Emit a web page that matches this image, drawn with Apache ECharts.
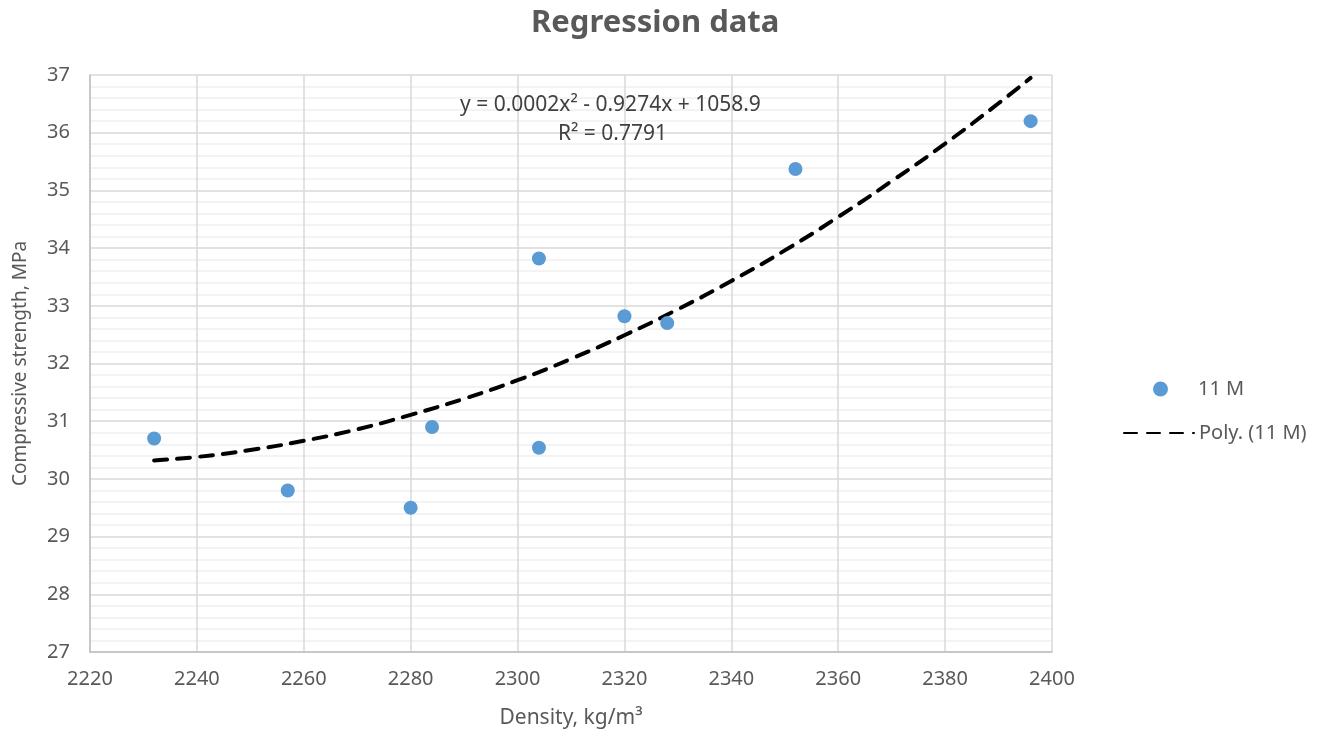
<!DOCTYPE html>
<html><head><meta charset="utf-8">
<script src="https://cdn.jsdelivr.net/npm/echarts@6/dist/echarts.min.js"></script>
<style>html,body{margin:0;padding:0;background:#fff}#c{width:1329px;height:736px}</style>
</head><body><div id="c"></div>
<script>
// Observed data (Density kg/m³, Compressive strength MPa)
const density = [2232, 2257, 2280, 2284, 2304, 2304, 2320, 2328, 2352, 2396];
const strength = [30.7, 29.8, 29.5, 30.9, 30.54, 33.82, 32.82, 32.7, 35.37, 36.2];
// Trendline values
const trendX = [2232, 2240, 2250, 2260, 2270, 2280, 2290, 2300, 2310, 2320, 2330, 2340, 2350, 2360, 2370, 2380, 2390, 2396];
const trendY = [30.32, 30.38, 30.50, 30.66, 30.86, 31.11, 31.39, 31.71, 32.08, 32.49, 32.94, 33.43, 33.96, 34.54, 35.16, 35.81, 36.51, 36.95];
const xTicks = {min: 2220, max: 2400, interval: 20};
const yTicks = {min: 27, max: 37, interval: 1};
const eqText = 'y = 0.0002x² - 0.9274x + 1058.9';
const r2Text = 'R² = 0.7791';

const font = 'Noto Sans';
const chart = echarts.init(document.getElementById('c'));
chart.setOption({
  backgroundColor: '#fff',
  animation: false,
  title: {text: 'Regression data', left: 526, top: 3,
    textStyle: {fontFamily: font, fontSize: 31, fontWeight: 'bold', color: '#595959'}},
  grid: {left: 90, right: 277, top: 75, bottom: 84},
  legend: [
    {data: [{name: '11 M', icon: 'circle'}], left: 1148, top: 374, orient: 'vertical',
     itemWidth: 15, itemHeight: 15,
     textStyle: {fontFamily: font, fontSize: 20, color: '#595959', padding: [0, 0, 0, 25]}},
    {data: [{name: 'Poly. (11 M)', itemStyle: {opacity: 0}}], left: 1118, top: 418, orient: 'vertical',
     itemWidth: 70, itemHeight: 20,
     textStyle: {fontFamily: font, fontSize: 20, color: '#595959'}}
  ],
  xAxis: {type: 'value', min: xTicks.min, max: xTicks.max, interval: xTicks.interval,
    name: 'Density, kg/m³', nameLocation: 'middle', nameGap: 56,
    nameTextStyle: {fontFamily: font, fontSize: 21, color: '#595959'},
    axisLine: {show: true, lineStyle: {color: '#bfbfbf', width: 1.5}},
    axisTick: {show: false},
    axisLabel: {fontFamily: font, fontSize: 20, color: '#595959', margin: 17,
      formatter: v => String(v)},
    splitLine: {show: true, lineStyle: {color: '#d9d9d9', width: 1.5}}},
  yAxis: {type: 'value', min: yTicks.min, max: yTicks.max, interval: yTicks.interval,
    name: 'Compressive strength, MPa', nameLocation: 'middle', nameGap: 60,
    nameTextStyle: {fontFamily: font, fontSize: 19, color: '#595959'},
    axisLine: {show: true, lineStyle: {color: '#bfbfbf', width: 1.5}},
    axisTick: {show: false},
    axisLabel: {fontFamily: font, fontSize: 20, color: '#595959', margin: 20},
    splitLine: {show: true, lineStyle: {color: '#d9d9d9', width: 1.5}},
    minorTick: {show: false, splitNumber: 5},
    minorSplitLine: {show: true, lineStyle: {color: '#efefef', width: 1.5}}},
  graphic: [
    {type: 'text', left: 460, top: 95, z: 10, style: {text: eqText, fontFamily: font, fontSize: 21, fill: '#404040'}},
    {type: 'text', left: 558, top: 124, z: 10, style: {text: r2Text, fontFamily: font, fontSize: 21, fill: '#404040'}}
  ],
  series: [
    {name: '11 M', type: 'scatter', symbol: 'circle', symbolSize: 14,
     itemStyle: {color: '#5b9bd5', opacity: 1}, z: 3,
     data: density.map((d, i) => [d, strength[i]])},
    {name: 'Poly. (11 M)', type: 'line', smooth: true, showSymbol: false, symbol: 'none',
     lineStyle: {color: '#000', width: 4, type: [13, 10], cap: 'round'},
     itemStyle: {color: '#000'}, z: 2,
     data: trendX.map((d, i) => [d, trendY[i]])}
  ]
});
</script></body></html>
